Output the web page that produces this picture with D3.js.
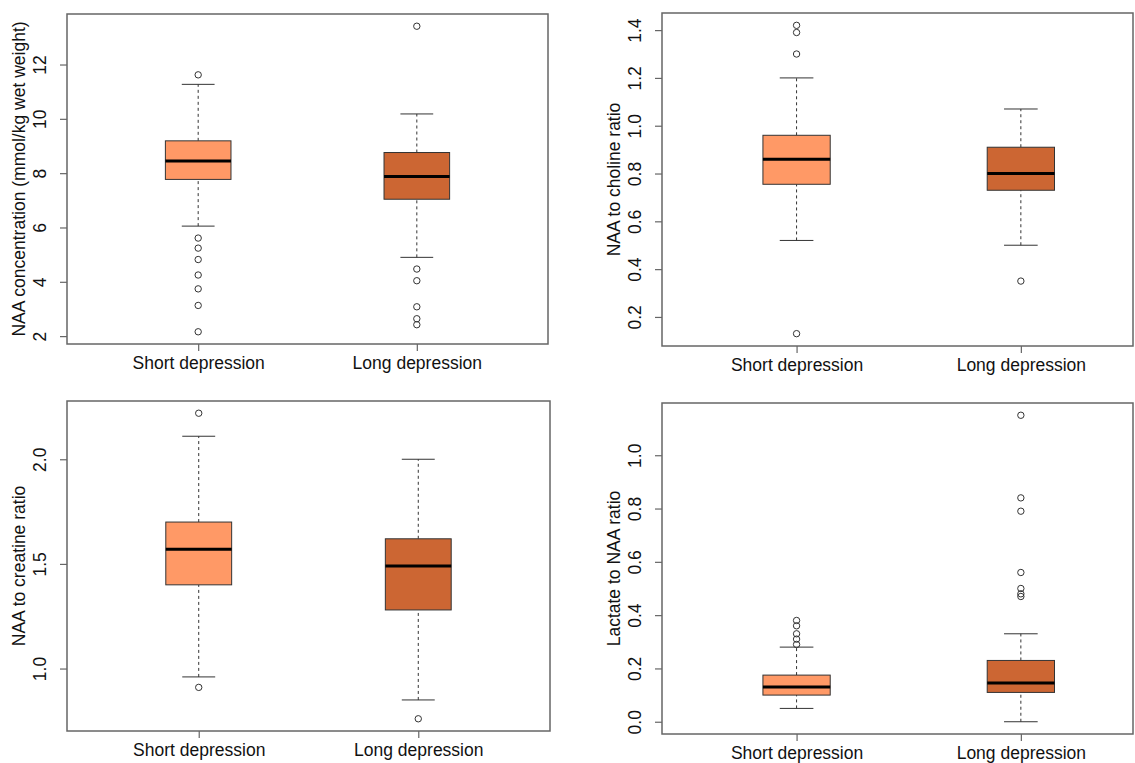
<!DOCTYPE html>
<head>
  <meta charset="utf-8">
  <style>
    body { margin: 0; background: #fff; }
    svg text {
      font-family: "Liberation Sans", Arial, Helvetica, sans-serif;
      font-size: 17.5px;
      fill: #111;
    }
    svg .frame { fill: none; stroke: #666; stroke-width: 1.5px; }
    svg .tick-line { stroke: #666; stroke-width: 1.2px; }
    svg .whisker { stroke: #333; stroke-width: 1px; stroke-dasharray: 3,3; }
    svg .cap { stroke: #333; stroke-width: 1px; }
    svg .box { stroke: #333; stroke-width: 1px; }
    svg .median { stroke: #000; stroke-width: 3px; }
    svg .outlier { fill: none; stroke: #333; stroke-width: 1px; }
  </style>
</head>

<body>
<script src="https://cdn.jsdelivr.net/npm/d3@7"></script>

<script>
  // groups and colours
  var groups = ["Short depression", "Long depression"];
  var fills = ["#FF9966", "#CC6633"];

  // [lower whisker, Q1, median, Q3, upper whisker] per group
  var naaStats = [[6.05, 7.77, 8.45, 9.19, 11.27], [4.90, 7.04, 7.88, 8.76, 10.18]];
  var naaOut = [[11.62, 5.61, 5.24, 4.82, 4.25, 3.74, 3.13, 2.16], [13.41, 4.47, 4.04, 3.08, 2.64, 2.42]];
  var naaTicks = [2, 4, 6, 8, 10, 12];

  var cholStats = [[0.52, 0.755, 0.86, 0.96, 1.20], [0.50, 0.73, 0.80, 0.91, 1.07]];
  var cholOut = [[1.42, 1.39, 1.30, 0.13], [0.35]];
  var cholTicks = [0.2, 0.4, 0.6, 0.8, 1.0, 1.2, 1.4];

  var creStats = [[0.96, 1.40, 1.57, 1.70, 2.11], [0.85, 1.28, 1.49, 1.62, 2.00]];
  var creOut = [[2.22, 0.91], [0.76]];
  var creTicks = [1.0, 1.5, 2.0];

  var lacStats = [[0.05, 0.10, 0.13, 0.175, 0.28], [0.0, 0.11, 0.145, 0.23, 0.33]];
  var lacOut = [[0.38, 0.36, 0.33, 0.31, 0.29], [1.15, 0.84, 0.79, 0.56, 0.50, 0.48, 0.47]];
  var lacTicks = [0.0, 0.2, 0.4, 0.6, 0.8, 1.0];

  // panel layout (pixels) built from the arrays above
  var panels = [
    { stats: naaStats, out: naaOut, ticks: naaTicks, fmt: d3.format("d"),
      label: "NAA concentration (mmol/kg wet weight)",
      left: 67, right: 548, top: 14, bottom: 344, xdom: [0.4, 2.6] },
    { stats: cholStats, out: cholOut, ticks: cholTicks, fmt: d3.format(".1f"),
      label: "NAA to choline ratio",
      left: 662, right: 1133, top: 13, bottom: 346, xdom: [0.4, 2.5] },
    { stats: creStats, out: creOut, ticks: creTicks, fmt: d3.format(".1f"),
      label: "NAA to creatine ratio",
      left: 67, right: 550, top: 401, bottom: 731, xdom: [0.4, 2.6] },
    { stats: lacStats, out: lacOut, ticks: lacTicks, fmt: d3.format(".1f"),
      label: "Lactate to NAA ratio",
      left: 662, right: 1133, top: 403, bottom: 734, xdom: [0.4, 2.5] }
  ];

  var svg = d3.select("body")
    .append("svg")
      .attr("width", 1135)
      .attr("height", 763);

  var boxHalf = 0.15;   // box half width, x units
  var capHalf = 0.075;

  panels.forEach(function (p) {
    // R style 4% padding around the data range
    var all = d3.merge(p.stats.concat(p.out));
    var lo = d3.min(all), hi = d3.max(all), pad = (hi - lo) * 0.04;

    var x = d3.scaleLinear().domain(p.xdom).range([p.left, p.right]);
    var y = d3.scaleLinear().domain([lo - pad, hi + pad]).range([p.bottom, p.top]);

    var g = svg.append("g");

    // y axis
    var yAxis = d3.axisLeft(y)
      .tickValues(p.ticks)
      .tickFormat(p.fmt)
      .tickSize(7)
      .tickSizeOuter(0);

    var ya = g.append("g")
        .attr("transform", "translate(" + p.left + ",0)")
        .call(yAxis);
    ya.select(".domain").remove();
    ya.selectAll(".tick line").attr("class", "tick-line").attr("stroke", null);
    ya.selectAll(".tick text")
        .attr("fill", null)
        .attr("x", null).attr("dy", null)
        .attr("transform", "translate(-21,0) rotate(-90)")
        .style("text-anchor", "middle");

    // x axis
    var xAxis = d3.axisBottom(x)
      .tickValues([1, 2])
      .tickFormat(function (d) { return groups[d - 1]; })
      .tickSize(7)
      .tickSizeOuter(0);

    var xa = g.append("g")
        .attr("transform", "translate(0," + p.bottom + ")")
        .call(xAxis);
    xa.select(".domain").remove();
    xa.selectAll(".tick line").attr("class", "tick-line").attr("stroke", null);
    xa.selectAll(".tick text")
        .attr("fill", null)
        .attr("y", 25).attr("dy", null);

    // axis title
    g.append("text")
        .attr("transform", "translate(" + (p.left - 42) + "," + ((p.top + p.bottom) / 2) + ") rotate(-90)")
        .style("text-anchor", "middle")
        .text(p.label);

    // boxes
    p.stats.forEach(function (s, i) {
      var c = i + 1;
      g.append("line").attr("class", "whisker")
          .attr("x1", x(c)).attr("x2", x(c))
          .attr("y1", y(s[0])).attr("y2", y(s[1]));
      g.append("line").attr("class", "whisker")
          .attr("x1", x(c)).attr("x2", x(c))
          .attr("y1", y(s[3])).attr("y2", y(s[4]));
      [s[0], s[4]].forEach(function (v) {
        g.append("line").attr("class", "cap")
            .attr("x1", x(c - capHalf)).attr("x2", x(c + capHalf))
            .attr("y1", y(v)).attr("y2", y(v));
      });
      g.append("rect").attr("class", "box")
          .attr("x", x(c - boxHalf))
          .attr("width", x(c + boxHalf) - x(c - boxHalf))
          .attr("y", y(s[3]))
          .attr("height", y(s[1]) - y(s[3]))
          .style("fill", fills[i]);
      g.append("line").attr("class", "median")
          .attr("x1", x(c - boxHalf)).attr("x2", x(c + boxHalf))
          .attr("y1", y(s[2])).attr("y2", y(s[2]));

      g.selectAll(null)
        .data(p.out[i])
        .enter()
        .append("circle")
          .attr("class", "outlier")
          .attr("cx", x(c))
          .attr("cy", function (d) { return y(d); })
          .attr("r", 3.2);
    });

    // frame
    g.append("rect").attr("class", "frame")
        .attr("x", p.left).attr("y", p.top)
        .attr("width", p.right - p.left)
        .attr("height", p.bottom - p.top);
  });
</script>
</body>
</html>
